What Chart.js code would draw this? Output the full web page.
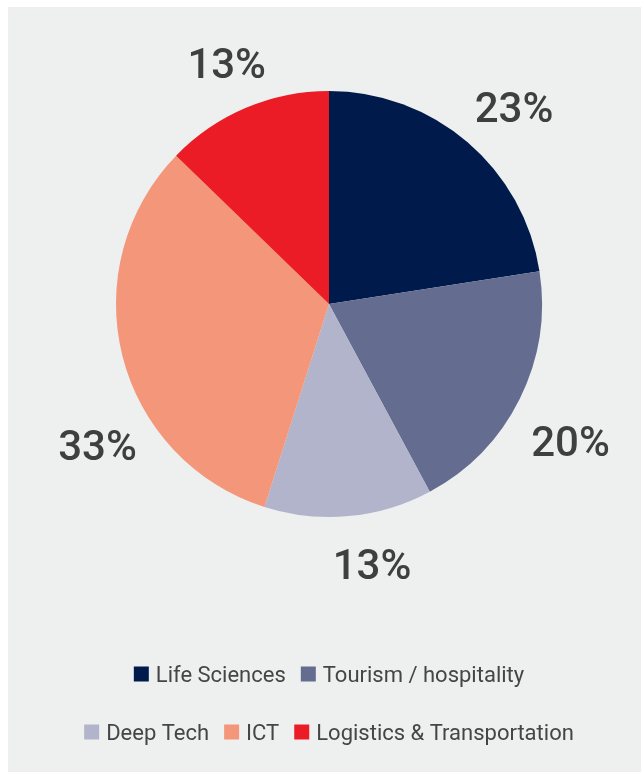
<!DOCTYPE html>
<html>
<head>
<meta charset="utf-8">
<title>Sector split</title>
<script src="https://cdn.jsdelivr.net/npm/chart.js@4.4.1/dist/chart.umd.min.js"></script>
<style>
  html, body { margin: 0; padding: 0; background: #ffffff; }
  canvas { display: block; }
</style>
</head>
<body>
<canvas id="sectors" width="641" height="772"></canvas>
<script>
// Sector shares (percent), clockwise from 12 o'clock
const categories = ['Life Sciences', 'Tourism / hospitality', 'Deep Tech', 'ICT', 'Logistics & Transportation'];
const shares = [23, 20, 13, 33, 13];
const sliceColors = ['#001a4b', '#646c90', '#b2b4cc', '#f4967a', '#ec1c27'];
// Which legend entries go on which line
const legendRows = [[0, 1], [2, 3, 4]];

// Grey card behind the chart
const cardBackground = {
  id: 'cardBackground',
  beforeDraw(chart, args, opts) {
    const { ctx, width, height } = chart;
    ctx.save();
    ctx.fillStyle = opts.color;
    ctx.fillRect(opts.left, opts.top, width - opts.left, height - opts.top);
    ctx.restore();
  }
};

// Percentage labels placed around the outside of each slice
const outerLabels = {
  id: 'outerLabels',
  afterDatasetsDraw(chart, args, opts) {
    const ctx = chart.ctx;
    const meta = chart.getDatasetMeta(0);
    const values = chart.data.datasets[0].data;
    ctx.save();
    ctx.font = opts.font;
    ctx.fillStyle = opts.color;
    ctx.textAlign = 'center';
    ctx.textBaseline = 'alphabetic';
    meta.data.forEach((arc, i) => {
      const { x, y, startAngle, endAngle, outerRadius } =
        arc.getProps(['x', 'y', 'startAngle', 'endAngle', 'outerRadius'], true);
      const a = (startAngle + endAngle) / 2 + opts.angleShift[i] * Math.PI / 180;
      const r = outerRadius * opts.radius[i];
      ctx.fillText(values[i] + '%', x + Math.cos(a) * r, y + Math.sin(a) * r + opts.capHalf);
    });
    ctx.restore();
  }
};

// Two-line legend centred under the pie
const rowLegend = {
  id: 'rowLegend',
  afterDraw(chart, args, opts) {
    const ctx = chart.ctx;
    const items = Chart.overrides.pie.plugins.legend.labels.generateLabels(chart);
    const cx = (chart.chartArea.left + chart.chartArea.right) / 2;
    ctx.save();
    ctx.font = opts.font;
    ctx.textAlign = 'left';
    ctx.textBaseline = 'alphabetic';
    opts.rows.forEach((row, r) => {
      const widths = row.map(i => opts.box + opts.boxGap + ctx.measureText(items[i].text).width);
      const total = widths.reduce((s, w) => s + w, 0) + opts.itemGap * (row.length - 1);
      let x = cx - total / 2;
      const yMid = opts.firstRowY + r * opts.rowStep;
      row.forEach((i, k) => {
        ctx.fillStyle = items[i].fillStyle;
        ctx.fillRect(x, yMid - opts.box / 2, opts.box, opts.box);
        ctx.fillStyle = opts.color;
        ctx.fillText(items[i].text, x + opts.box + opts.boxGap, yMid + opts.capHalf);
        x += widths[k] + opts.itemGap;
      });
    });
    ctx.restore();
  }
};

new Chart(document.getElementById('sectors'), {
  type: 'pie',
  data: {
    labels: categories,
    datasets: [{
      data: shares,
      backgroundColor: sliceColors,
      borderWidth: 0,
      hoverBorderWidth: 0,
      hoverOffset: 0
    }]
  },
  options: {
    responsive: false,
    animation: false,
    events: [],
    layout: { padding: { left: 17, right: 0, top: 91, bottom: 255 } },
    plugins: {
      legend: { display: false },
      tooltip: { enabled: false },
      cardBackground: { color: '#eef0ef', left: 8, top: 7 },
      outerLabels: {
        font: '500 42px Roboto, "Liberation Sans", sans-serif',
        color: '#3f3f3f',
        capHalf: 15,
        angleShift: [2.6, 3.1, -4.1, -17.2, -0.1],
        radius: [1.269, 1.304, 1.236, 1.272, 1.227]
      },
      rowLegend: {
        rows: legendRows,
        font: '400 22px Roboto, "Liberation Sans", sans-serif',
        color: '#454545',
        box: 15,
        boxGap: 7,
        itemGap: 15,
        firstRowY: 674,
        rowStep: 58,
        capHalf: 8
      }
    }
  },
  plugins: [cardBackground, outerLabels, rowLegend]
});
</script>
</body>
</html>
